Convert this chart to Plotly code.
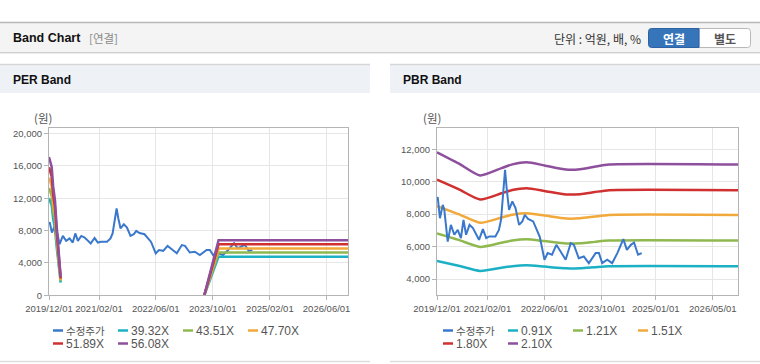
import plotly.graph_objects as go

W, H = 760, 364

# ---------------- data ----------------
price_dates = ["2019-12-01", "2019-12-07", "2019-12-26", "2020-01-19", "2020-02-01", "2020-03-01",
               "2020-03-28", "2020-04-26", "2020-05-25", "2020-06-21", "2020-07-13", "2020-08-04",
               "2020-09-02", "2020-10-01", "2020-11-22", "2020-12-25", "2021-01-22", "2021-02-18",
               "2021-04-10", "2021-05-10", "2021-05-28", "2021-06-13", "2021-07-01", "2021-07-16",
               "2021-08-04", "2021-09-01", "2021-09-28", "2021-10-28", "2021-11-25", "2021-12-16",
               "2022-01-13", "2022-02-25", "2022-03-22", "2022-04-22", "2022-06-01", "2022-06-28",
               "2022-08-04", "2022-09-10", "2022-10-16", "2022-11-28", "2023-01-10", "2023-02-06",
               "2023-03-19", "2023-05-01", "2023-06-13", "2023-08-10", "2023-09-07", "2023-10-04",
               "2023-11-16", "2023-12-28", "2024-02-10", "2024-04-01", "2024-05-01", "2024-06-04",
               "2024-07-01", "2024-08-04", "2024-09-04"]
price_vals = [8900, 9050, 7750, 8570, 8270, 6310,
              7340, 6730, 7030, 6520, 7650, 6730,
              7340, 7140, 6420, 7080, 6520, 6630,
              6630, 7030, 7650, 9080, 10730, 9500,
              8270, 8780, 8370, 7340, 7550, 7960,
              7700, 7550, 7140, 6600, 5190, 5600,
              5500, 6110, 5700, 5190, 6215, 6110,
              5290, 5390, 4980, 5600, 5600, 4980,
              5190, 4980, 5600, 6460, 5800, 6110,
              6250, 5500, 5600]

per_dates = ["2019-12-01", "2019-12-24", "2020-01-06", "2020-01-21", "2020-02-05", "2020-02-18",
             "2020-03-04", "2020-03-10", "2020-04-01", "2023-07-01", "2023-11-20", "2026-12-01"]
per_eps = [305, 283, 239, 210, 151, 114, 63, 40, None, -20, 121.5, 121.5]
per_mults = [39.32, 43.51, 47.70, 51.89, 56.08]
per_names = ["39.32X", "43.51X", "47.70X", "51.89X", "56.08X"]

pbr_dates = ["2019-12-01", "2020-06-01", "2020-12-01", "2021-06-01", "2021-09-01", "2022-01-01",
             "2022-06-01", "2022-12-01", "2023-04-01", "2023-08-01", "2023-12-01", "2026-12-01"]
pbr_bps = [5626, 5300, 4945, 5160, 5270, 5330, 5240, 5120, 5130, 5200, 5265, 5265]
pbr_mults = [0.91, 1.21, 1.51, 1.80, 2.10]
pbr_names = ["0.91X", "1.21X", "1.51X", "1.80X", "2.10X"]

price_name = "수정주가"

per_ticks = ["2019-12-01", "2021-02-01", "2022-06-01", "2023-10-01", "2025-02-01", "2026-06-01"]
pbr_ticks = ["2019-12-01", "2021-02-01", "2022-06-01", "2023-10-01", "2025-01-01", "2026-05-01"]
per_yticks = [0, 4000, 8000, 12000, 16000, 20000]
pbr_yticks = [4000, 6000, 8000, 10000, 12000]

colors = ["#3a78cc", "#1cb0c4", "#8fb84f", "#f2a93b", "#d03030", "#8e4f9c"]

# ---------------- helpers (window pixels -> paper) ----------------
def px(x):
    return x / W

def py(y):
    return 1 - y / H

NUM_FONT = "Liberation Sans, Arial, sans-serif"
KR_FONT = "Noto Sans CJK KR, sans-serif"

fig = go.Figure()

# PER traces
fig.add_trace(go.Scatter(x=price_dates, y=price_vals, mode="lines", name=price_name,
                         line=dict(color=colors[0], width=2), xaxis="x", yaxis="y",
                         showlegend=False))
for i, m in enumerate(per_mults):
    vals = [None if e is None else round(e * m, 1) for e in per_eps]
    fig.add_trace(go.Scatter(x=per_dates, y=vals, mode="lines", name=per_names[i],
                             line=dict(color=colors[i + 1], width=2.5), connectgaps=False,
                             xaxis="x", yaxis="y", showlegend=False))

# PBR traces
for i, m in enumerate(pbr_mults):
    vals = [round(b * m, 1) for b in pbr_bps]
    fig.add_trace(go.Scatter(x=pbr_dates, y=vals, mode="lines", name=pbr_names[i],
                             line=dict(color=colors[i + 1], width=2.5, shape="spline", smoothing=0.6),
                             xaxis="x2", yaxis="y2", showlegend=False))
fig.add_trace(go.Scatter(x=price_dates, y=price_vals, mode="lines", name=price_name,
                         line=dict(color=colors[0], width=2), xaxis="x2", yaxis="y2",
                         showlegend=False))

axis_common = dict(showgrid=True, gridcolor="#e6e6e6", gridwidth=1, showline=True, mirror=True,
                   linecolor="#b4b4b4", linewidth=1, ticks="outside", ticklen=4,
                   tickcolor="#b4b4b4", zeroline=False, automargin=False,
                   tickfont=dict(family=NUM_FONT, size=9.5, color="#555555"))

fig.update_layout(
    width=W, height=H, margin=dict(l=0, r=0, t=0, b=0, autoexpand=False),
    paper_bgcolor="white", plot_bgcolor="white", showlegend=False,
    xaxis=dict(type="date", domain=[px(49), px(348)], range=["2019-12-01", "2026-12-01"],
               tickvals=per_ticks, ticktext=[t.replace("-", "/") for t in per_ticks],
               tickangle=0, anchor="y", **axis_common),
    yaxis=dict(domain=[py(295.3), py(128.3)], range=[0, 20650], tickvals=per_yticks,
               tickformat=",", anchor="x", **axis_common),
    xaxis2=dict(type="date", domain=[px(437), px(738)], range=["2019-12-01", "2026-12-01"],
                tickvals=pbr_ticks, ticktext=[t.replace("-", "/") for t in pbr_ticks],
                tickangle=0, anchor="y2", **axis_common),
    yaxis2=dict(domain=[py(295.3), py(128.3)], range=[3000, 13290], tickvals=pbr_yticks,
                tickformat=",", anchor="x2", **axis_common),
)

shapes = []
ann = []

# top header bar
shapes.append(dict(type="rect", xref="paper", yref="paper", x0=0, x1=1, y0=py(52), y1=py(23),
                   fillcolor="#f4f4f4", line=dict(width=0), layer="below"))
shapes.append(dict(type="line", xref="paper", yref="paper", x0=0, x1=1, y0=py(22.5), y1=py(22.5),
                   line=dict(color="#b8b8b8", width=1.5)))
shapes.append(dict(type="line", xref="paper", yref="paper", x0=0, x1=1, y0=py(52.5), y1=py(52.5),
                   line=dict(color="#cfcfcf", width=1)))
shapes.append(dict(type="line", xref="paper", yref="paper", x0=0, x1=1, y0=py(53.5), y1=py(53.5),
                   line=dict(color="#ececec", width=1)))

ann.append(dict(text="<b>Band Chart</b>", x=px(11), y=py(38), xref="paper", yref="paper",
                xanchor="left", yanchor="middle", showarrow=False,
                font=dict(family="Liberation Sans, Arial", size=12.5, color="#111111")))
ann.append(dict(text="[연결]", x=px(87), y=py(38.5), xref="paper", yref="paper",
                xanchor="left", yanchor="middle", showarrow=False,
                font=dict(family=KR_FONT, size=11.5, color="#8a8a8a")))
ann.append(dict(text="단위 : 억원, 배, %", x=px(643), y=py(38.5), xref="paper", yref="paper",
                xanchor="right", yanchor="middle", showarrow=False,
                font=dict(family=KR_FONT, size=12, color="#333333")))

# buttons
def rounded_path(x0, y0, x1, y1, rl, rr):
    def P(x, y):
        return f"{px(x):.5f},{py(y):.5f}"
    path = f"M {P(x0 + rl, y0)} L {P(x1 - rr, y0)} "
    if rr:
        path += f"Q {P(x1, y0)} {P(x1, y0 + rr)} "
    path += f"L {P(x1, y1 - rr)} "
    if rr:
        path += f"Q {P(x1, y1)} {P(x1 - rr, y1)} "
    path += f"L {P(x0 + rl, y1)} "
    if rl:
        path += f"Q {P(x0, y1)} {P(x0, y1 - rl)} "
    path += f"L {P(x0, y0 + rl)} "
    if rl:
        path += f"Q {P(x0, y0)} {P(x0 + rl, y0)} "
    path += "Z"
    return path

shapes.append(dict(type="path", xref="paper", yref="paper", path=rounded_path(699, 28.5, 750.5, 47.5, 0, 3),
                   fillcolor="#ffffff", line=dict(color="#b9b9b9", width=1)))
shapes.append(dict(type="path", xref="paper", yref="paper", path=rounded_path(648.5, 28.5, 699, 47.5, 3, 0),
                   fillcolor="#3775bb", line=dict(color="#2d62a3", width=1)))
ann.append(dict(text="<b>연결</b>", x=px(674), y=py(38.5), xref="paper", yref="paper",
                xanchor="center", yanchor="middle", showarrow=False,
                font=dict(family=KR_FONT, size=12, color="#ffffff")))
ann.append(dict(text="<b>별도</b>", x=px(725), y=py(38.5), xref="paper", yref="paper",
                xanchor="center", yanchor="middle", showarrow=False,
                font=dict(family=KR_FONT, size=12, color="#555555")))

# panels
for (x0, x1, title) in [(0, 370, "PER Band"), (390, 760, "PBR Band")]:
    shapes.append(dict(type="rect", xref="paper", yref="paper", x0=px(x0), x1=px(x1),
                       y0=py(93), y1=py(64.5), fillcolor="#eef2f7", line=dict(width=0), layer="below"))
    shapes.append(dict(type="line", xref="paper", yref="paper", x0=px(x0), x1=px(x1),
                       y0=py(64.5), y1=py(64.5), line=dict(color="#d6d6d6", width=1.5)))
    shapes.append(dict(type="line", xref="paper", yref="paper", x0=px(x0), x1=px(x1),
                       y0=py(361.5), y1=py(361.5), line=dict(color="#dddddd", width=1.5)))
    ann.append(dict(text=f"<b>{title}</b>", x=px(x0 + 11), y=py(80), xref="paper", yref="paper",
                    xanchor="left", yanchor="middle", showarrow=False,
                    font=dict(family="Liberation Sans, Arial", size=12, color="#111111")))

# unit labels
for xc in [43, 432]:
    ann.append(dict(text="(원)", x=px(xc), y=py(118), xref="paper", yref="paper",
                    xanchor="center", yanchor="middle", showarrow=False,
                    font=dict(family=KR_FONT, size=11.5, color="#555555")))

# manual legends
def legend(base_x, names):
    for i, nm in enumerate(names):
        col, row = i % 4, i // 4
        sx = base_x + col * 65
        sy = 330.5 + row * 13
        shapes.append(dict(type="line", xref="paper", yref="paper", x0=px(sx), x1=px(sx + 10),
                           y0=py(sy), y1=py(sy), line=dict(color=colors[i], width=2.5)))
        is_kr = any(ord(c) > 0x3000 for c in nm)
        ann.append(dict(text=nm, x=px(sx + 12), y=py(sy - (0.5 if is_kr else 0)),
                        xref="paper", yref="paper", borderpad=0,
                        xanchor="left", yanchor="middle", showarrow=False,
                        font=dict(family=KR_FONT if is_kr else NUM_FONT,
                                  size=10.5 if is_kr else 12, color="#555555")))

legend(53, [price_name] + per_names)
legend(443, [price_name] + pbr_names)

fig.update_layout(shapes=shapes, annotations=ann)
fig.write_html("out.html", config={"displayModeBar": False},
               post_script="document.body.style.margin='0';")
